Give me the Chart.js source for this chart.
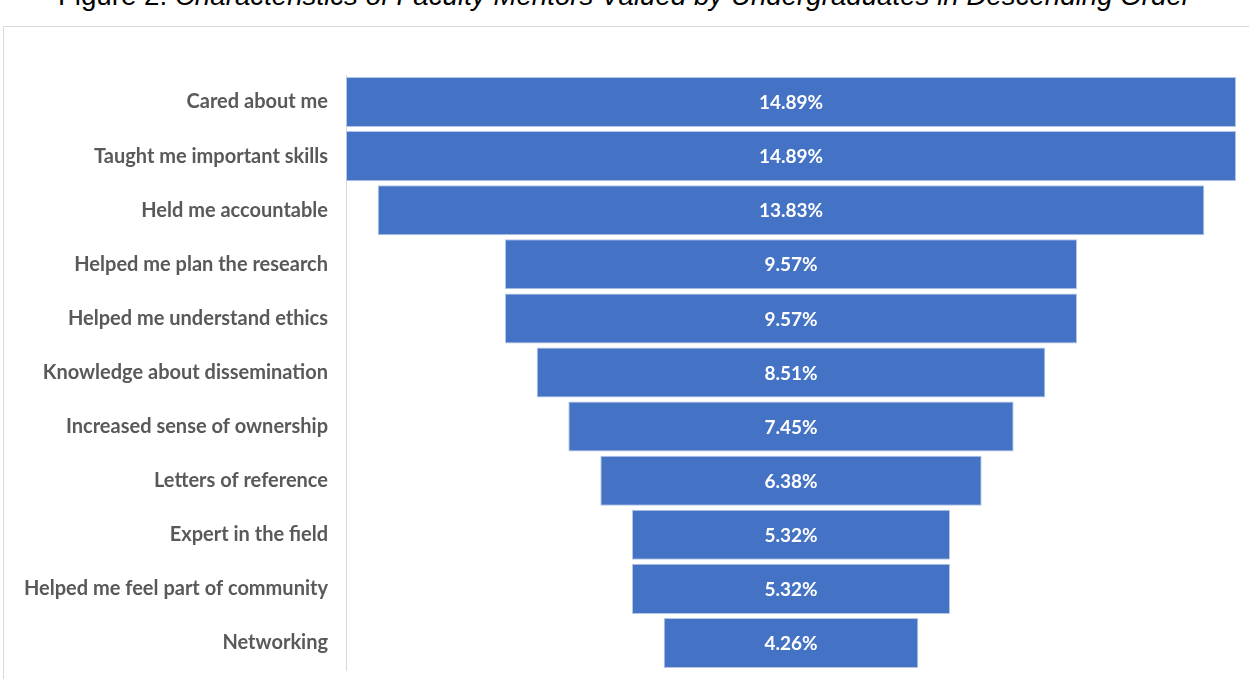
<!DOCTYPE html>
<html>
<head>
<meta charset="utf-8">
<script src="https://cdn.jsdelivr.net/npm/chart.js@4.4.1/dist/chart.umd.min.js"></script>
<style>
    html, body { margin: 0; padding: 0; background: #fff; overflow: hidden; }
    #wrap { position: relative; width: 1249px; height: 679px; }
    #title {
        position: absolute; left: 0; width: 1249px; top: -18px;
        text-align: center; font-family: "Liberation Sans", Arial, sans-serif;
        font-size: 27.7px; line-height: 28px; color: #000; white-space: nowrap;
    }
    #title i { font-style: italic; }
    #frame {
        position: absolute; left: 3px; top: 26px; width: 1260px; height: 700px;
        border-left: 1px solid #d9d9d9; border-top: 1px solid #d9d9d9;
    }
    #chartBox { position: absolute; left: 0; top: 0; width: 1249px; height: 679px; }
</style>
</head>
<body>
<div id="wrap">
    <div id="title">Figure 2. <i>Characteristics of Faculty Mentors Valued by Undergraduates in Descending Order</i></div>
    <div id="frame"></div>
    <div id="chartBox"><canvas id="funnel" width="1249" height="679"></canvas></div>
</div>
<script>
// categories, top to bottom
const categories = [
    'Cared about me',
    'Taught me important skills',
    'Held me accountable',
    'Helped me plan the research',
    'Helped me understand ethics',
    'Knowledge about dissemination',
    'Increased sense of ownership',
    'Letters of reference',
    'Expert in the field',
    'Helped me feel part of community',
    'Networking'
];

// share of responses, percent
const percentages = [14.89, 14.89, 13.83, 9.57, 9.57, 8.51, 7.45, 6.38, 5.32, 5.32, 4.26];

// funnel bars are centred, so each one runs from -v/2 to +v/2
const maxValue = Math.max(...percentages);
const funnelRanges = percentages.map(v => [-v / 2, v / 2]);

// draw the value text in the middle of every bar
const barLabels = {
    id: 'barLabels',
    afterDatasetsDraw(chart) {
        const ctx = chart.ctx;
        const meta = chart.getDatasetMeta(0);
        ctx.save();
        ctx.font = 'bold 19px Lato, "Open Sans", sans-serif';
        ctx.fillStyle = '#ffffff';
        ctx.textAlign = 'center';
        ctx.textBaseline = 'middle';
        meta.data.forEach((bar, i) => {
            const c = bar.getCenterPoint();
            ctx.fillText(percentages[i].toFixed(2) + '%', c.x, c.y + 1);
        });
        ctx.restore();
    }
};

new Chart(document.getElementById('funnel'), {
    type: 'bar',
    data: {
        labels: categories,
        datasets: [{
            data: funnelRanges,
            backgroundColor: '#4472c4',
            borderColor: '#b4c7e7',
            borderWidth: 1,
            borderSkipped: false,
            barPercentage: 0.925,
            categoryPercentage: 1.0
        }]
    },
    options: {
        indexAxis: 'y',
        responsive: false,
        animation: false,
        devicePixelRatio: 1,
        layout: { padding: { top: 75, right: 13, bottom: 9, left: 0 } },
        plugins: {
            legend: { display: false },
            tooltip: { enabled: false }
        },
        scales: {
            x: {
                display: false,
                min: -maxValue / 2,
                max: maxValue / 2
            },
            y: {
                grid: { display: false, drawTicks: false },
                border: { display: true, color: '#d9d9d9', width: 1 },
                ticks: {
                    color: '#595959',
                    padding: 18,
                    font: { family: 'Lato, "Open Sans", sans-serif', size: 20, weight: 'bold' }
                },
                afterFit(scale) {
                    scale.width = 346;
                    // the tick padding would otherwise squeeze the bars vertically
                    scale.paddingTop = 0;
                    scale.paddingBottom = 0;
                }
            }
        }
    },
    plugins: [barLabels]
});
</script>
</body>
</html>
